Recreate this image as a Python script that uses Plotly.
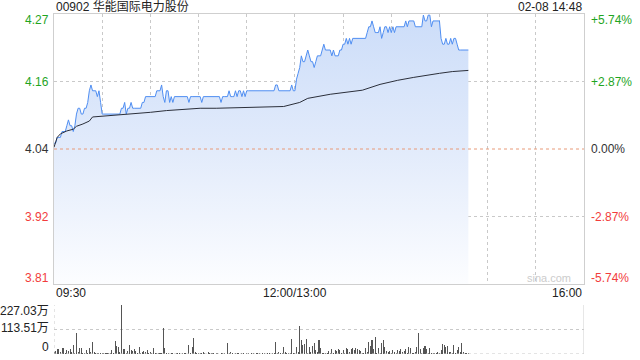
import plotly.graph_objects as go

# ---------------- data ----------------
pre_close = 4.04
title_text = "00902 华能国际电力股份"
time_text = "02-08 14:48"

price = [
    4.05, 4.05, 4.06, 4.06, 4.06, 4.07, 4.07, 4.07, 4.08, 4.09,
    4.08, 4.08, 4.07, 4.08, 4.10, 4.11, 4.11, 4.10, 4.10, 4.11,
    4.11, 4.12, 4.14, 4.15, 4.14, 4.14, 4.14, 4.13, 4.14, 4.12,
    4.10, 4.10, 4.10, 4.10, 4.10, 4.10, 4.10, 4.10, 4.10, 4.10,
    4.10, 4.10, 4.11, 4.11, 4.12, 4.10, 4.11, 4.11, 4.12, 4.11,
    4.11, 4.11, 4.11, 4.11, 4.11, 4.12, 4.12, 4.13, 4.13, 4.13,
    4.13, 4.13, 4.13, 4.13, 4.14, 4.14, 4.14, 4.15, 4.13, 4.12,
    4.14, 4.14, 4.12, 4.13, 4.12, 4.13, 4.13, 4.13, 4.13, 4.13,
    4.13, 4.13, 4.13, 4.13, 4.12, 4.13, 4.13, 4.13, 4.13, 4.13,
    4.13, 4.13, 4.12, 4.13, 4.13, 4.13, 4.13, 4.13, 4.13, 4.13,
    4.13, 4.13, 4.13, 4.13, 4.12, 4.13, 4.13, 4.13, 4.13, 4.14,
    4.13, 4.13, 4.13, 4.14, 4.13, 4.14, 4.14, 4.13, 4.14, 4.13,
    4.14, 4.14, 4.14, 4.14, 4.14, 4.14, 4.14, 4.14, 4.14, 4.14,
    4.14, 4.14, 4.14, 4.14, 4.14, 4.14, 4.14, 4.14, 4.15, 4.15,
    4.14, 4.14, 4.14, 4.14, 4.14, 4.14, 4.14, 4.14, 4.15, 4.14,
    4.14, 4.16, 4.17, 4.18, 4.20, 4.19, 4.19, 4.20, 4.21, 4.20,
    4.19, 4.19, 4.18, 4.19, 4.20, 4.20, 4.20, 4.21, 4.22, 4.21,
    4.21, 4.21, 4.21, 4.20, 4.21, 4.20, 4.20, 4.20, 4.21, 4.21,
    4.22, 4.22, 4.23, 4.22, 4.23, 4.22, 4.23, 4.23, 4.23, 4.23,
    4.23, 4.23, 4.23, 4.23, 4.23, 4.24, 4.25, 4.25, 4.26, 4.25,
    4.24, 4.24, 4.24, 4.25, 4.23, 4.24, 4.25, 4.25, 4.24, 4.25,
    4.24, 4.25, 4.24, 4.25, 4.25, 4.25, 4.25, 4.25, 4.25, 4.26,
    4.25, 4.26, 4.26, 4.26, 4.26, 4.25, 4.25, 4.25, 4.25, 4.25,
    4.27, 4.26, 4.26, 4.27, 4.27, 4.25, 4.26, 4.26, 4.26, 4.26,
    4.26, 4.23, 4.22, 4.22, 4.23, 4.22, 4.22, 4.23, 4.22, 4.23,
    4.23, 4.22, 4.21, 4.21, 4.21, 4.21, 4.21, 4.21, 4.21,
]
minutes = list(range(len(price)))

avg_minutes = [0, 2, 4, 8, 12, 14, 18, 22, 24, 29, 39, 49, 60, 70, 80, 91,
               101, 122, 143, 153, 158, 172, 182, 192, 203, 214, 224, 234,
               240, 248, 258]
avg_price = [4.043, 4.060, 4.066, 4.071, 4.074, 4.079, 4.083, 4.088, 4.095,
             4.096, 4.098, 4.101, 4.103, 4.106, 4.108, 4.110, 4.110, 4.112,
             4.113, 4.120, 4.127, 4.134, 4.137, 4.141, 4.151, 4.158, 4.163,
             4.168, 4.170, 4.173, 4.175]

volume = [
    8, 12, 22, 22, 9, 26, 28, 6, 18, 15,
    22, 7, 42, 5, 99, 8, 26, 28, 6, 5,
    18, 6, 29, 7, 56, 9, 4, 5, 3, 4,
    5, 3, 4, 6, 4, 5, 18, 6, 62, 37,
    31, 10, 227, 25, 22, 6, 15, 42, 18, 14,
    22, 14, 5, 31, 6, 11, 15, 9, 18, 5,
    11, 4, 28, 6, 3, 5, 4, 3, 119, 26,
    4, 3, 2, 5, 3, 2, 4, 6, 3, 2,
    5, 3, 4, 2, 42, 6, 34, 73, 11, 4,
    3, 5, 4, 9, 3, 2, 9, 4, 3, 5,
    2, 4, 3, 2, 5, 3, 4, 2, 52, 5,
    9, 3, 2, 4, 3, 5, 2, 3, 4, 2,
    3, 5, 2, 4, 3, 2, 4, 3, 5, 2,
    3, 4, 2, 3, 5, 2, 4, 3, 57, 5,
    11, 4, 3, 31, 9, 5, 4, 6, 69, 5,
    4, 34, 8, 130, 65, 42, 46, 69, 6, 31,
    8, 37, 49, 18, 7, 65, 26, 6, 4, 5,
    3, 15, 5, 22, 6, 18, 15, 22, 18, 5,
    18, 6, 29, 22, 7, 22, 29, 18, 26, 22,
    18, 14, 5, 6, 26, 7, 57, 37, 65, 22,
    77, 6, 26, 5, 49, 65, 31, 15, 11, 15,
    5, 18, 11, 6, 18, 14, 22, 11, 15, 22,
    6, 31, 26, 6, 4, 11, 31, 99, 22, 5,
    26, 37, 22, 6, 26, 6, 4, 3, 5, 11,
    5, 18, 46, 42, 31, 37, 11, 11, 5, 42,
    6, 18, 34, 11, 49, 11, 4, 6, 4,
]
vol_minutes = list(range(len(volume)))
vol_max = 227.03

pct_levels = [0.0574, 0.0287, 0.0, -0.0287, -0.0574]
left_labels = ["4.27", "4.16", "4.04", "3.92", "3.81"]
right_labels = ["+5.74%", "+2.87%", "0.00%", "-2.87%", "-5.74%"]
label_colors = ["#1fa51f", "#1fa51f", "#333333", "#f23c3c", "#f23c3c"]

x_labels = ["09:30", "12:00/13:00", "16:00"]
x_label_pos = [0, 150, 330]
grid_minutes = [30, 60, 90, 120, 150, 180, 210, 240, 270, 300]

vol_labels = ["227.03万", "113.51万", "0"]
vol_label_vals = [227.03, 113.51, 0]

# ---------------- figure ----------------
FONT = "Liberation Sans, Arial, Noto Sans CJK SC, sans-serif"
levels = [pre_close * (1 + p) for p in pct_levels]
y_top, y_bot = levels[0], levels[-1]

fig = go.Figure()

fig.add_trace(go.Scatter(
    x=minutes, y=price, mode="lines",
    line=dict(color="#4f8ef2", width=1),
    fill="tozeroy",
    fillgradient=dict(type="vertical", start=y_bot, stop=y_top,
                      colorscale=[[0, "rgb(252,253,255)"],
                                  [0.5, "rgb(226,235,251)"],
                                  [1, "rgb(204,221,249)"]]),
    xaxis="x", yaxis="y", hoverinfo="skip", showlegend=False,
))
fig.add_trace(go.Scatter(
    x=avg_minutes, y=avg_price, mode="lines",
    line=dict(color="#2b2f3a", width=1),
    xaxis="x", yaxis="y", hoverinfo="skip", showlegend=False,
))
fig.add_trace(go.Bar(
    x=vol_minutes, y=volume, width=0.65,
    marker=dict(color="#555555", line=dict(width=0)),
    xaxis="x2", yaxis="y2", hoverinfo="skip", showlegend=False,
))

grid_col = "#c9c9c9"
fig.update_layout(
    width=640, height=360,
    margin=dict(l=54, r=56, t=14, b=6),
    paper_bgcolor="white", plot_bgcolor="white",
    font=dict(family=FONT, size=12, color="#333"),
    xaxis=dict(domain=[0, 1], range=[0, 330], anchor="y",
               tickvals=grid_minutes, showticklabels=False, ticks="",
               showgrid=True, gridcolor=grid_col, griddash="dot", gridwidth=1,
               showline=True, mirror=True, linecolor="#cfcfcf", linewidth=1,
               zeroline=False, fixedrange=True),
    yaxis=dict(domain=[70 / 340, 1], range=[y_bot, y_top], anchor="x",
               tickvals=[levels[1], levels[3]], showticklabels=False, ticks="",
               showgrid=True, gridcolor=grid_col, griddash="dot", gridwidth=1,
               showline=True, mirror=True, linecolor="#cfcfcf", linewidth=1,
               zeroline=False, fixedrange=True),
    xaxis2=dict(domain=[0, 1], range=[0, 330], anchor="y2",
                showticklabels=False, ticks="", showgrid=False,
                showline=False, zeroline=False, fixedrange=True),
    yaxis2=dict(domain=[0, 49 / 340], range=[0, vol_max], anchor="x2",
                tickvals=[vol_label_vals[1], vol_label_vals[0]],
                showticklabels=False, ticks="",
                showgrid=True, gridcolor=grid_col, griddash="dot", gridwidth=1,
                showline=False, zeroline=False, fixedrange=True),
    bargap=0,
)

shapes = [
    # previous close dashed line
    dict(type="line", xref="x", yref="y", x0=0, x1=330, y0=pre_close, y1=pre_close,
         line=dict(color="#e89a78", width=1, dash="3px,3px"), layer="above"),
    # volume panel borders
    dict(type="line", xref="x2", yref="y2", x0=330, x1=330, y0=0, y1=vol_max,
         line=dict(color="#cfcfcf", width=1)),
    dict(type="line", xref="x2", yref="y2", x0=0, x1=330, y0=0, y1=0,
         line=dict(color=grid_col, width=1, dash="dot")),
    dict(type="line", xref="x2", yref="y2", x0=0, x1=0, y0=0, y1=vol_max,
         line=dict(color=grid_col, width=1, dash="dot")),
]
fig.update_layout(shapes=shapes)

ann = []
ann.append(dict(text=title_text, xref="paper", yref="paper", x=0, y=1,
                xanchor="left", yanchor="middle", yshift=7, xshift=0,
                showarrow=False, font=dict(size=12, color="#222")))
ann.append(dict(text=time_text, xref="paper", yref="paper", x=1, y=1,
                xanchor="right", yanchor="middle", yshift=7,
                showarrow=False, font=dict(size=12, color="#222")))

shifts = [-6, 0, 0, 0, 6]
for lv, lt, rt, col, sh in zip(levels, left_labels, right_labels, label_colors, shifts):
    ann.append(dict(text=lt, xref="paper", yref="y", x=0, y=lv, xanchor="right",
                    yanchor="middle", xshift=-3, yshift=sh, showarrow=False,
                    font=dict(size=12, color=col)))
    ann.append(dict(text=rt, xref="paper", yref="y", x=1, y=lv, xanchor="left",
                    yanchor="middle", xshift=5, yshift=sh, showarrow=False,
                    font=dict(size=12, color=col)))

anchors = ["left", "center", "right"]
for t, pos, a in zip(x_labels, x_label_pos, anchors):
    ann.append(dict(text=t, xref="x", yref="y", x=pos, y=y_bot, xanchor=a,
                    yanchor="middle", yshift=-9, showarrow=False,
                    font=dict(size=12, color="#222")))

vshifts = [-6, 2, 7]
for t, v, sh in zip(vol_labels, vol_label_vals, vshifts):
    ann.append(dict(text=t, xref="paper", yref="y2", x=0, y=v, xanchor="right",
                    yanchor="middle", xshift=-3, yshift=sh, showarrow=False,
                    font=dict(size=12, color="#222")))

ann.append(dict(text="sina.com", xref="paper", yref="y", x=1, y=y_bot,
                xanchor="right", yanchor="middle", xshift=-11, yshift=6,
                showarrow=False, font=dict(size=11, color="#cccccc")))

fig.update_layout(annotations=ann)

fig.write_html("out.html", config={"displayModeBar": False, "staticPlot": True})
